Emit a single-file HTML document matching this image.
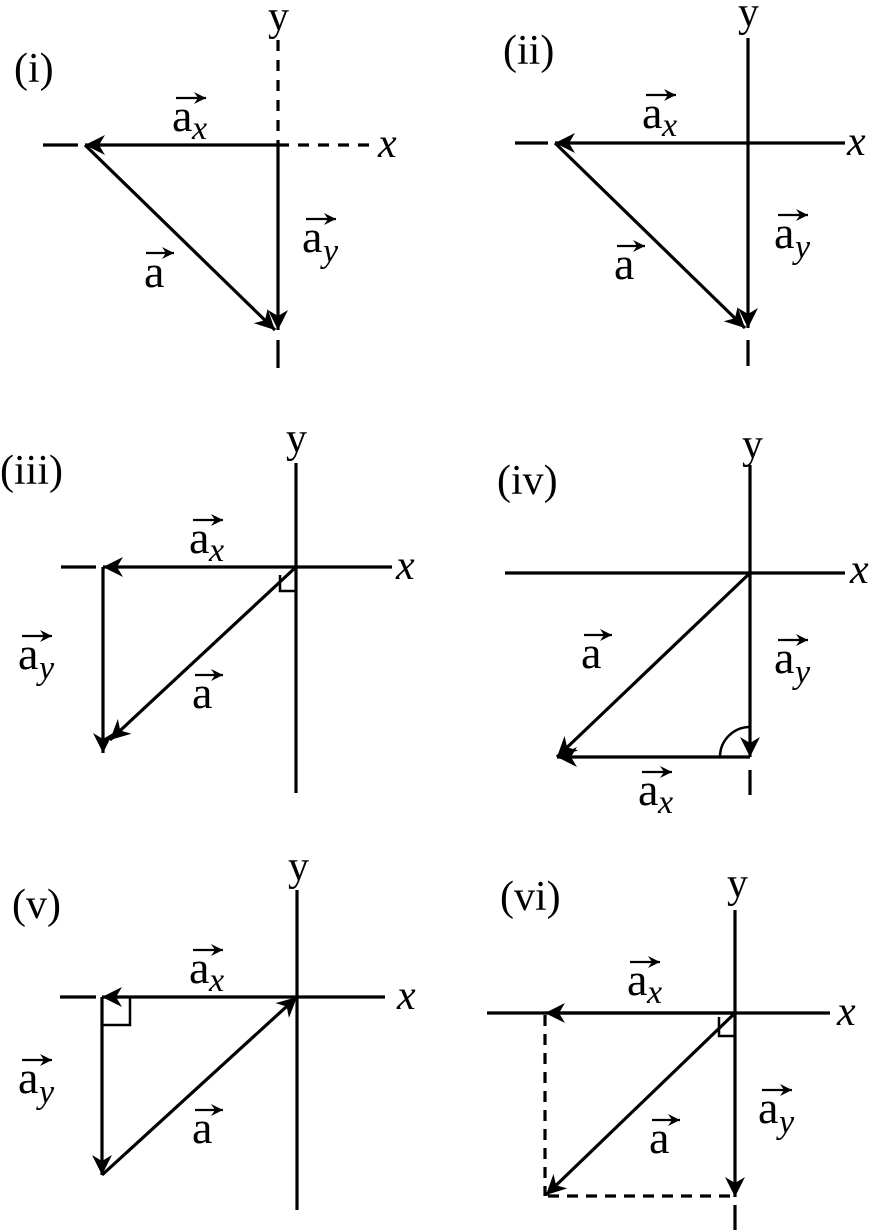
<!DOCTYPE html>
<html><head><meta charset="utf-8"><style>
html,body{margin:0;padding:0;background:#fff;}
svg{display:block;font-family:"Liberation Serif","DejaVu Serif",serif;}
svg text{font-family:"Liberation Serif","DejaVu Serif",serif !important;fill:#000;}
.l{font-size:46px;}
.s{font-size:34px;font-style:italic;}
.ax{font-size:42px;font-style:italic;}
.yl{font-size:42px;}
.p{font-size:42px;}
</style></head><body>
<svg width="875" height="1230" viewBox="0 0 875 1230" xmlns="http://www.w3.org/2000/svg">
<defs>
<marker id="h" markerWidth="24" markerHeight="20" refX="20" refY="10" orient="auto" markerUnits="userSpaceOnUse">
<path d="M20,10 L0,0 L6,10 L0,20 Z" fill="#000"/>
</marker>
<marker id="hs" markerWidth="14" markerHeight="12" refX="12" refY="6" orient="auto" markerUnits="userSpaceOnUse">
<path d="M12,6 L0,0 L4,6 L0,12 Z" fill="#000"/>
</marker>
</defs>
<g stroke="#000" stroke-width="3.2" fill="none">
<line x1="278" y1="40" x2="278" y2="145" stroke-dasharray="11,9"/>
<line x1="278" y1="145" x2="372" y2="145" stroke-dasharray="11,9"/>
<line x1="43" y1="145" x2="78" y2="145"/>
<line x1="278" y1="145" x2="85" y2="145" marker-end="url(#h)"/>
<line x1="85" y1="145" x2="275" y2="330" marker-end="url(#h)"/>
<line x1="278" y1="145" x2="278" y2="330" marker-end="url(#h)"/>
<line x1="278" y1="340" x2="278" y2="368"/>
<line x1="748" y1="38" x2="748" y2="328" marker-end="url(#h)"/>
<line x1="515" y1="143" x2="548" y2="143"/>
<line x1="748" y1="143" x2="845" y2="143"/>
<line x1="748" y1="143" x2="555" y2="143" marker-end="url(#h)"/>
<line x1="555" y1="143" x2="745" y2="328" marker-end="url(#h)"/>
<line x1="748" y1="340" x2="748" y2="366"/>
<line x1="296" y1="463" x2="296" y2="793"/>
<line x1="61" y1="567" x2="96" y2="567"/>
<line x1="296" y1="567" x2="392" y2="567"/>
<line x1="296" y1="567" x2="103" y2="567" marker-end="url(#h)"/>
<line x1="103" y1="567" x2="103" y2="753" marker-end="url(#h)"/>
<line x1="296" y1="567" x2="110" y2="740" marker-end="url(#h)"/>
<polyline points="280,575 280,591 296,591" stroke-width="2.5"/>
<line x1="750" y1="465" x2="750" y2="757" marker-end="url(#h)"/>
<line x1="505" y1="573" x2="845" y2="573"/>
<line x1="750" y1="573" x2="557" y2="757" marker-end="url(#h)"/>
<line x1="750" y1="757" x2="557" y2="757" marker-end="url(#h)"/>
<path d="M720,757 A30,30 0 0 1 750,727" stroke-width="2.5"/>
<line x1="750" y1="770" x2="750" y2="795"/>
<line x1="297" y1="890" x2="297" y2="1210"/>
<line x1="60" y1="997" x2="96" y2="997"/>
<line x1="297" y1="997" x2="385" y2="997"/>
<line x1="297" y1="997" x2="102" y2="997" marker-end="url(#h)"/>
<line x1="102" y1="997" x2="102" y2="1175" marker-end="url(#h)"/>
<line x1="102" y1="1175" x2="297" y2="997" marker-end="url(#h)"/>
<polyline points="102,1025 130,1025 130,997" stroke-width="2.5"/>
<line x1="735" y1="910" x2="735" y2="1197" marker-end="url(#h)"/>
<line x1="735" y1="1205" x2="735" y2="1230"/>
<line x1="487" y1="1013" x2="830" y2="1013"/>
<line x1="735" y1="1013" x2="545" y2="1013" marker-end="url(#h)"/>
<line x1="545" y1="1015" x2="545" y2="1196" stroke-dasharray="11,8"/>
<line x1="548" y1="1196" x2="735" y2="1196" stroke-dasharray="11,8"/>
<line x1="735" y1="1013" x2="546" y2="1195" marker-end="url(#h)"/>
<polyline points="719,1017 719,1036 735,1036" stroke-width="2.5"/>
</g>
<g stroke="#000" stroke-width="2.2">
<line x1="176" y1="98" x2="206" y2="98" marker-end="url(#hs)"/>
<line x1="306" y1="219" x2="336" y2="219" marker-end="url(#hs)"/>
<line x1="146" y1="253" x2="174" y2="253" marker-end="url(#hs)"/>
<line x1="646" y1="95" x2="676" y2="95" marker-end="url(#hs)"/>
<line x1="778" y1="215" x2="808" y2="215" marker-end="url(#hs)"/>
<line x1="617" y1="246" x2="645" y2="246" marker-end="url(#hs)"/>
<line x1="193" y1="520" x2="223" y2="520" marker-end="url(#hs)"/>
<line x1="22" y1="636" x2="52" y2="636" marker-end="url(#hs)"/>
<line x1="195" y1="675" x2="223" y2="675" marker-end="url(#hs)"/>
<line x1="584" y1="635" x2="612" y2="635" marker-end="url(#hs)"/>
<line x1="778" y1="640" x2="808" y2="640" marker-end="url(#hs)"/>
<line x1="642" y1="772" x2="672" y2="772" marker-end="url(#hs)"/>
<line x1="193" y1="950" x2="223" y2="950" marker-end="url(#hs)"/>
<line x1="22" y1="1060" x2="52" y2="1060" marker-end="url(#hs)"/>
<line x1="195" y1="1110" x2="223" y2="1110" marker-end="url(#hs)"/>
<line x1="630" y1="962" x2="660" y2="962" marker-end="url(#hs)"/>
<line x1="762" y1="1090" x2="792" y2="1090" marker-end="url(#hs)"/>
<line x1="652" y1="1120" x2="680" y2="1120" marker-end="url(#hs)"/>
</g>
<text class="p" x="14" y="82">(i)</text>
<text class="yl" x="268" y="30">y</text>
<text class="ax" x="378" y="157">x</text>
<text class="l" x="172" y="131">a</text><text class="s" x="192" y="139">x</text>
<text class="l" x="302" y="252">a</text><text class="s" x="323" y="262">y</text>
<text class="l" x="144" y="287">a</text>
<text class="p" x="503" y="64">(ii)</text>
<text class="yl" x="738" y="26">y</text>
<text class="ax" x="847" y="155">x</text>
<text class="l" x="642" y="128">a</text><text class="s" x="662" y="136">x</text>
<text class="l" x="774" y="248">a</text><text class="s" x="795" y="258">y</text>
<text class="l" x="614" y="279">a</text>
<text class="p" x="0" y="484">(iii)</text>
<text class="yl" x="286" y="452">y</text>
<text class="ax" x="396" y="579">x</text>
<text class="l" x="189" y="553">a</text><text class="s" x="209" y="561">x</text>
<text class="l" x="18" y="669">a</text><text class="s" x="39" y="679">y</text>
<text class="l" x="192" y="708">a</text>
<text class="p" x="497" y="494">(iv)</text>
<text class="yl" x="742" y="458">y</text>
<text class="ax" x="850" y="583">x</text>
<text class="l" x="581" y="668">a</text>
<text class="l" x="774" y="673">a</text><text class="s" x="795" y="683">y</text>
<text class="l" x="638" y="805">a</text><text class="s" x="658" y="813">x</text>
<text class="p" x="12" y="918">(v)</text>
<text class="yl" x="288" y="880">y</text>
<text class="ax" x="397" y="1009">x</text>
<text class="l" x="189" y="983">a</text><text class="s" x="209" y="991">x</text>
<text class="l" x="18" y="1093">a</text><text class="s" x="39" y="1103">y</text>
<text class="l" x="192" y="1143">a</text>
<text class="p" x="500" y="910">(vi)</text>
<text class="yl" x="727" y="897">y</text>
<text class="ax" x="837" y="1025">x</text>
<text class="l" x="627" y="995">a</text><text class="s" x="647" y="1003">x</text>
<text class="l" x="758" y="1123">a</text><text class="s" x="779" y="1133">y</text>
<text class="l" x="649" y="1153">a</text>
</svg>
</body></html>
